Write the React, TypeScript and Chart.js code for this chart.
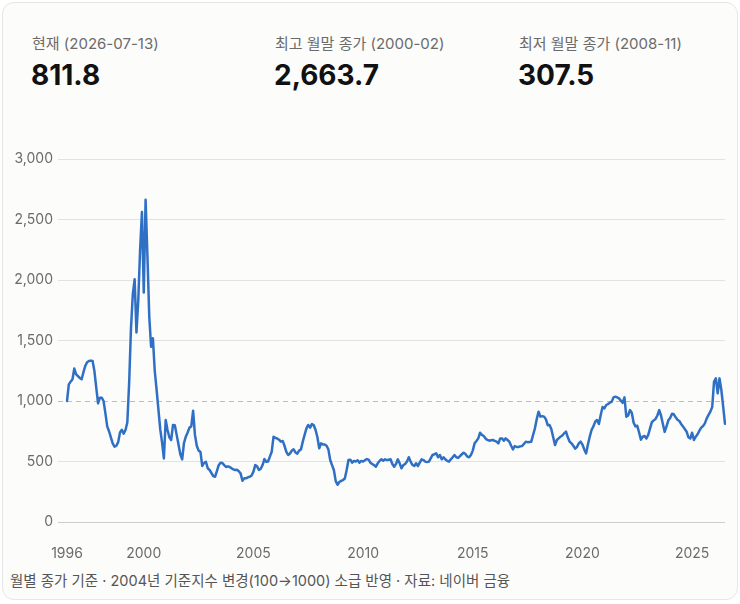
import React, { useEffect, useRef } from 'react';
import { Chart, registerables } from 'chart.js';

Chart.register(...registerables);

const FONT = "Inter, 'Noto Sans CJK KR', 'Noto Sans', sans-serif";

// Monthly closes, series begins 1996-07
const START_YEAR = 1996;
const START_MONTH = 7;

const closes1996 = [1000, 1137, 1160, 1180, 1268, 1220];
const closes1997 = [1205, 1190, 1180, 1238, 1290, 1320, 1330, 1334, 1330, 1247, 1110, 980];
const closes1998 = [1027, 1027, 1000, 900, 790, 750, 700, 650, 622, 630, 660, 740];
const closes1999 = [762, 730, 760, 822, 1150, 1600, 1880, 2006, 1567, 1836, 2250, 2562];
const closes2000 = [1896, 2663.7, 2200, 1700, 1449, 1518, 1250, 1096, 932, 767, 658, 525];
const closes2001 = [843, 760, 700, 678, 802, 800, 720, 640, 560, 518, 653, 705];
const closes2002 = [740, 780, 790, 920, 720, 630, 590, 581, 463, 488, 498, 444];
const closes2003 = [430, 405, 380, 374, 420, 470, 490, 488, 470, 455, 460, 455];
const closes2004 = [444, 435, 430, 432, 420, 400, 341, 361, 361, 370, 374, 385];
const closes2005 = [416, 470, 460, 430, 440, 471, 520, 498, 500, 540, 581, 705];
const closes2006 = [695, 690, 680, 664, 670, 630, 580, 554, 566, 590, 600, 575];
const closes2007 = [565, 590, 600, 664, 720, 774, 802, 780, 810, 800, 760, 700];
const closes2008 = [609, 650, 640, 640, 630, 600, 512, 470, 430, 340, 307.5, 330];
const closes2009 = [340, 347, 360, 430, 512, 515, 490, 505, 500, 510, 490, 505];
const closes2010 = [500, 510, 520, 515, 490, 479, 470, 457, 485, 505, 518, 507];
const closes2011 = [518, 512, 515, 518, 479, 457, 480, 518, 485, 444, 470, 479];
const closes2012 = [499, 535, 499, 471, 463, 485, 463, 490, 518, 512, 499, 495];
const closes2013 = [499, 526, 554, 560, 567, 535, 554, 518, 535, 518, 505, 499];
const closes2014 = [518, 535, 554, 535, 530, 545, 560, 573, 562, 540, 535, 554];
const closes2015 = [590, 650, 670, 691, 738, 720, 711, 690, 678, 672, 675, 678];
const closes2016 = [670, 664, 650, 691, 691, 672, 691, 678, 664, 630, 600, 628];
const closes2017 = [620, 620, 625, 628, 645, 664, 660, 662, 664, 719, 774, 850];
const closes2018 = [912, 871, 875, 871, 850, 800, 802, 766, 700, 636, 678, 691];
const closes2019 = [705, 715, 733, 747, 700, 664, 650, 630, 606, 620, 650, 664];
const closes2020 = [640, 600, 567, 640, 705, 760, 790, 829, 843, 810, 884, 950];
const closes2021 = [939, 967, 975, 986, 994, 1030, 1036, 1030, 1022, 1003, 985, 1030];
const closes2022 = [870, 880, 925, 903, 820, 790, 795, 740, 680, 705, 711, 690];
const closes2023 = [720, 774, 825, 840, 852, 880, 925, 880, 810, 745, 790, 840];
const closes2024 = [860, 895, 890, 865, 845, 835, 810, 790, 768, 746, 700, 690];
const closes2025 = [738, 678, 705, 725, 755, 780, 793, 815, 857, 885, 912, 950];
const closes2026 = [1160, 1187, 1063, 1187, 1091, 953, 811.8];

const monthlyCloses = [
  ...closes1996, ...closes1997, ...closes1998, ...closes1999, ...closes2000,
  ...closes2001, ...closes2002, ...closes2003, ...closes2004, ...closes2005,
  ...closes2006, ...closes2007, ...closes2008, ...closes2009, ...closes2010,
  ...closes2011, ...closes2012, ...closes2013, ...closes2014, ...closes2015,
  ...closes2016, ...closes2017, ...closes2018, ...closes2019, ...closes2020,
  ...closes2021, ...closes2022, ...closes2023, ...closes2024, ...closes2025,
  ...closes2026,
];

const xTickYears = ['1996', '2000', '2005', '2010', '2015', '2020', '2025'];
const yMin = 0;
const yMax = 3000;
const yStep = 500;
const referenceLevel = 1000;

const statLabels = ['현재 (2026-07-13)', '최고 월말 종가 (2000-02)', '최저 월말 종가 (2008-11)'];
const statValues = ['811.8', '2,663.7', '307.5'];
const footnote = '월별 종가 기준 · 2004년 기준지수 변경(100→1000) 소급 반영 · 자료: 네이버 금융';

const monthLabels = monthlyCloses.map((_, i) => {
  const m = START_MONTH - 1 + i;
  const y = START_YEAR + Math.floor(m / 12);
  const mm = (m % 12) + 1;
  return `${y}-${String(mm).padStart(2, '0')}`;
});

const refLinePlugin = {
  id: 'refLine',
  beforeDatasetsDraw(chart: any) {
    const { ctx, chartArea } = chart;
    const y = Math.round(chart.scales.y.getPixelForValue(referenceLevel)) + 0.5;
    ctx.save();
    ctx.setLineDash([5, 4]);
    ctx.strokeStyle = '#bdbdbd';
    ctx.lineWidth = 1;
    ctx.beginPath();
    ctx.moveTo(chartArea.left - 9, y);
    ctx.lineTo(chartArea.right, y);
    ctx.stroke();
    ctx.restore();
  },
};

function KosdaqChart() {
  const ref = useRef<HTMLCanvasElement | null>(null);
  useEffect(() => {
    if (!ref.current) return;
    const chart = new Chart(ref.current, {
      type: 'line',
      data: {
        labels: monthLabels,
        datasets: [
          {
            data: monthlyCloses,
            borderColor: '#2f6fc4',
            borderWidth: 2.5,
            pointRadius: 0,
            tension: 0,
            borderJoinStyle: 'round',
            borderCapStyle: 'round',
            fill: false,
          },
        ],
      },
      options: {
        responsive: false,
        animation: false,
        layout: { padding: { top: 29, right: 13, left: 0, bottom: 0 } },
        plugins: { legend: { display: false }, tooltip: { enabled: false } },
        scales: {
          x: {
            type: 'category',
            offset: false,
            grid: { display: false },
            border: { display: false },
            afterFit(scale: any) {
              scale.height = 48;
            },
            ticks: {
              autoSkip: false,
              maxRotation: 0,
              minRotation: 0,
              padding: 15,
              color: '#6b6b6b',
              font: { family: FONT, size: 14 },
              callback(_v: any, idx: number) {
                const [y, m] = monthLabels[idx].split('-');
                if (idx === 0) return y;
                if (m === '01' && xTickYears.includes(y)) return y;
                return '';
              },
            },
          },
          y: {
            min: yMin,
            max: yMax,
            border: { display: false },
            afterFit(scale: any) {
              scale.width = 67;
            },
            grid: {
              tickLength: 9,
              lineWidth: 1,
              color: (ctx: any) => {
                const v = ctx.tick ? ctx.tick.value : null;
                if (v === referenceLevel) return 'rgba(0,0,0,0)';
                if (v === 0) return '#cdcdcd';
                return '#e2e2e2';
              },
            },
            ticks: {
              stepSize: yStep,
              padding: 5,
              color: '#6b6b6b',
              font: { family: FONT, size: 14 },
              callback: (v: any) => Number(v).toLocaleString('en-US'),
            },
          },
        },
      },
      plugins: [refLinePlugin],
    } as any);
    return () => chart.destroy();
  }, []);
  return (
    <canvas
      ref={ref}
      width={740}
      height={440}
      style={{ position: 'absolute', left: 0, top: 130, width: 740, height: 440 }}
    />
  );
}

export default function App() {
  const cols = [32, 275, 519];
  return (
    <div
      style={{
        position: 'fixed',
        left: 0,
        top: 0,
        width: 740,
        height: 604,
        background: '#ffffff',
        fontFamily: FONT,
        overflow: 'hidden',
      }}
    >
      <div
        style={{
          position: 'absolute',
          left: 2,
          top: 2,
          width: 736,
          height: 598,
          boxSizing: 'border-box',
          border: '1px solid #e6e6e6',
          borderRadius: 12,
          background: '#fcfcfb',
        }}
      />
      {statLabels.map((lab, i) => (
        <React.Fragment key={lab}>
          <div
            style={{
              position: 'absolute',
              left: cols[i],
              top: 35,
              fontSize: 15,
              lineHeight: '18px',
              color: '#6b6b6b',
              whiteSpace: 'nowrap',
            }}
          >
            {lab}
          </div>
          <div
            style={{
              position: 'absolute',
              left: cols[i] - 1,
              top: 58,
              fontSize: 28,
              fontWeight: 700,
              lineHeight: '34px',
              color: '#111111',
              whiteSpace: 'nowrap',
            }}
          >
            {statValues[i]}
          </div>
        </React.Fragment>
      ))}
      <KosdaqChart />
      <div
        style={{
          position: 'absolute',
          left: 10,
          top: 572,
          fontSize: 14.5,
          lineHeight: '18px',
          color: '#555555',
          whiteSpace: 'nowrap',
        }}
      >
        {footnote}
      </div>
    </div>
  );
}
